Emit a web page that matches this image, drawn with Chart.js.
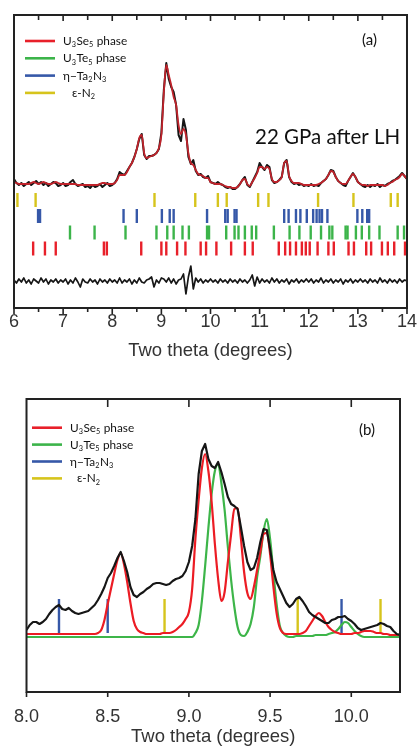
<!DOCTYPE html>
<html>
<head>
<meta charset="utf-8">
<script src="https://cdn.jsdelivr.net/npm/chart.js@4.4.0/dist/chart.umd.min.js"></script>
<style>
  html, body { margin: 0; padding: 0; background: #fff; }
  .panel { position: relative; width: 420px; }
  #wrapA { height: 370px; }
  #wrapB { height: 378px; }
</style>
</head>
<body>
<div class="panel" id="wrapA"><canvas id="chartA"></canvas></div>
<div class="panel" id="wrapB"><canvas id="chartB"></canvas></div>
<script>
// ---------- panel (a): 22 GPa after LH, 6-14 deg, one point every 0.05 deg
const twoThetaA = Array.from({ length: 161 }, (_, i) => +(6 + i * 0.05).toFixed(2));
const observedA = [
  6, 2, 0, 2, -1, 1, 3, 0, 2, 4, 1, 3, 0, 2, -1, 1, 3, 2, -1, 0,
  2, -1, 0, 3, 5, 1, -1, 0, 1, -2, -1, -3, 0, -2, -1, 1, -2, 0, 2, -1,
  0, 2, 6, 13, 11, 10, 14, 18, 22, 28, 36, 46, 51, 30, 26, 29, 29, 30, 32, 36,
  52, 95, 122, 106, 98, 93, 80, 50, 44, 66, 55, 28, 21, 25, 14, 10, 11, 8, 7, 9,
  3, 2, 1, 3, 1, 0, -2, -3, -2, -4, -4, -2, 1, 5, 8, 0, -2, 3, 8, 13,
  22, 18, 15, 20, 18, 5, 2, 3, 5, 8, 22, 25, 8, 3, 1, 2, 0, 1, -1, 0,
  -1, 1, -1, 0, -1, 2, 4, 6, 10, 15, 14, 8, 4, 2, 0, -1, 4, 8, 12, 8,
  3, 1, -1, -2, 0, -2, 0, -1, 1, -2, 0, -1, 1, 2, 4, 5, 7, 9, 12, 9,
  6
];
const calculatedA = [
  3, 2, 1, 1, 1, 1, 1, 2, 3, 2, 1, 2, 3, 2, 1, 1, 2, 3, 2, 1,
  1, 1, 1, 1, 1, 1, 0, 0, 0, 0, 0, 0, 0, 0, 0, 1, 2, 2, 1, 1,
  1, 2, 5, 10, 10, 10, 13, 18, 22, 28, 36, 47, 50, 32, 27, 28, 29, 30, 32, 37,
  50, 92, 120, 110, 100, 88, 80, 60, 51, 56, 50, 32, 22, 20, 15, 11, 10, 9, 7, 7,
  3, 2, 1, 1, 1, 0, -1, -2, -2, -3, -3, -2, 1, 5, 6, 1, -1, 3, 7, 12,
  18, 18, 16, 18, 16, 6, 3, 3, 5, 8, 22, 24, 9, 4, 2, 2, 2, 1, 0, 0,
  0, 0, 0, 0, 1, 2, 4, 6, 10, 14, 13, 8, 4, 2, 1, 1, 4, 8, 11, 8,
  3, 1, 0, 0, -1, 0, 0, 0, 0, 0, 0, -1, 0, 2, 3, 5, 6, 8, 11, 9,
  6
];
const differenceA = [
  1, -2, 2, -1, 3, -2, 1, -3, 2, 0, -2, 3, -1, 2, -3, 1, -1, 2, -2, 1,
  -1, 2, -3, 1, -2, 3, -1, -6, 2, -1, -2, 2, -1, 1, -3, 2, -1, 1, -2, 2,
  -1, 1, -2, 3, -2, 1, -1, 2, -3, 1, -2, 3, -1, -2, 1, 2, 4, -6, 1, -2,
  3, 2, -1, 3, -2, 2, -3, 1, 2, 7, -13, 4, 15, -8, 3, -1, 2, -2, 1, -1,
  2, -1, 1, -2, 2, -1, 1, -2, 2, -1, 1, -2, 2, -1, 1, -2, 1, 6, -5, 4,
  -2, 2, -1, 1, -2, 3, -1, 2, -2, 1, -1, 2, -3, 1, -1, 2, -2, 1, -1, 2,
  -1, 2, -2, 1, -1, 3, -2, 1, -1, 2, -2, 1, -1, 2, -3, 1, -1, 2, -2, 1,
  -1, 2, -1, 1, -2, 2, -1, 1, -2, 3, -1, 1, -2, 2, -1, 1, -2, 2, -1, 1,
  0
];

// reflection positions (two theta, deg) for each phase
const epsN2Refl = [6.07, 6.44, 8.86, 9.69, 10.15, 10.33, 10.97, 11.18, 12.19, 12.91, 13.67, 13.81];
const ta2n3Refl = [6.49, 6.53, 8.23, 8.50, 9.01, 9.17, 9.25, 9.93, 10.30, 10.35, 10.49, 10.53,
  11.50, 11.59, 11.74, 11.83, 11.96, 12.09, 12.16, 12.22, 12.27, 12.38, 12.99, 13.09, 13.19, 13.23];
const u3te5Refl = [7.14, 7.64, 8.27, 8.90, 9.12, 9.25, 9.43, 9.56, 9.93, 9.97, 10.32, 10.49, 10.57,
  10.70, 10.84, 10.93, 11.29, 11.61, 11.81, 12.04, 12.25, 12.42, 12.48, 12.75, 12.79, 12.96,
  13.08, 13.23, 13.44, 13.81, 13.94];
const u3se5Refl = [6.39, 6.63, 6.85, 7.83, 7.89, 8.59, 9.00, 9.10, 9.32, 9.49, 9.80, 9.91, 10.12,
  10.42, 10.70, 10.86, 11.39, 11.52, 11.62, 11.74, 11.86, 11.94, 12.02, 12.18, 12.40, 12.51,
  12.81, 12.92, 13.17, 13.27, 13.49, 13.61, 13.74, 13.96];

const tickLabelsA = [6, 7, 8, 9, 10, 11, 12, 13, 14];
const minorTicksA = [6.5, 7.5, 8.5, 9.5, 10.5, 11.5, 12.5, 13.5];

// ---------- panel (b): zoom 8.0-10.3 deg, one point every 0.02 deg
const twoThetaB = Array.from({ length: 116 }, (_, i) => +(8 + i * 0.02).toFixed(2));
const observedB = [
  4, 9, 12, 12, 10, 12, 15, 20, 24, 27,
  29, 25, 24, 26, 23, 21, 20, 21, 22, 23,
  26, 29, 34, 40, 47, 56, 61, 68, 76, 82,
  73, 62, 47, 39, 37, 40, 42, 45, 47, 50,
  51, 51, 50, 49, 50, 53, 55, 56, 58, 63,
  72, 88, 115, 160, 183, 190, 175, 168, 166, 172,
  162, 150, 137, 130, 128, 125, 107, 88, 72, 64,
  66, 76, 92, 105, 104, 85, 64, 52, 45, 38,
  31, 27, 30, 35, 37, 33, 28, 22, 19, 17,
  15, 13, 11, 11, 14, 15, 17, 17, 18, 15,
  13, 10, 6, 4, 5, 6, 7, 8, 9, 11,
  10, 8, 7, 3, 0, -1
];
const u3se5B = [
  0, 0, 0, 0, 0, 0, 0, 0, 0, 0,
  0, 0, 0, 0, 0, 0, 0, 0, 0, 0,
  0, 0, 1, 4, 14, 30, 45, 60, 74, 81,
  70, 52, 31, 13, 5, 2, 1, 0, 0, 0,
  0, 0, 1, 1, 1, 2, 4, 7, 10, 15,
  22, 45, 95, 134, 166, 180, 163, 132, 90, 55,
  33, 42, 72, 100, 125, 126, 96, 62, 41, 35,
  47, 64, 82, 100, 101, 80, 48, 21, 6, 1,
  0, 0, 0, 0, 0, 1, 3, 8, 13, 18,
  21, 18, 12, 7, 4, 2, 1, 0, 0, 0,
  0, 1, 1, 2, 3, 3, 3, 2, 1, 1,
  0, 0, -1, -1, -1, -1
];
const u3te5B = [
  -3, -3, -3, -3, -3, -3, -3, -3, -3, -3,
  -3, -3, -3, -3, -3, -3, -3, -3, -3, -3,
  -3, -3, -3, -3, -3, -3, -3, -3, -3, -3,
  -3, -3, -3, -3, -3, -3, -3, -3, -3, -3,
  -3, -3, -3, -3, -3, -3, -3, -3, -3, -3,
  -3, -3, 1, 9, 33, 68, 106, 140, 163, 170,
  151, 124, 87, 54, 27, 7, -1, -2, 2, 10,
  27, 57, 78, 103, 115, 95, 62, 30, 8, 1,
  -2, -3, -3, -2, -2, -2, -2, -2, -2, -1,
  -1, -1, -1, 0, 1, 2, 5, 9, 12, 11,
  7, 3, 0, -2, -3, -3, -3, -3, -3, -3,
  -3, -3, -3, -3, -3, -3
];
const ta2n3B = [8.20, 8.50, 9.94];
const epsN2B = [8.85, 9.67, 10.18];
const tickLabelsB = [8.0, 8.5, 9.0, 9.5, 10.0];

// ---------- styles
const RED = '#e8202a', GREEN = '#3cb44a', BLUE = '#3658a8', YELLOW = '#d6c41c', INK = '#111';
const axisFont = { family: 'Liberation Sans, Arial, sans-serif', size: 18 };
const titleFont = { family: 'Liberation Sans, Arial, sans-serif', size: 18.5 };
const rowA = { eps: -15, ta: -31, te: -47.5, se: -63.5, diff: -96 };

const pts = (xs, ys, shift = 0) => xs.map((x, i) => ({ x, y: ys[i] + shift }));
const marks = (xs, y, color, r) => ({
  data: xs.map(x => ({ x, y })), showLine: false, pointStyle: 'line',
  pointRotation: 90, pointRadius: r, pointHoverRadius: r,
  pointBorderColor: color, pointBorderWidth: 2.4, order: 5
});

function drawRich(ctx, str, x, y, size) {
  let cx = x;
  str.split(/(_\d)/).forEach(part => {
    if (!part) return;
    const sub = part[0] === '_';
    const t = sub ? part.slice(1) : part;
    ctx.font = (sub ? size * 0.62 : size) + 'px Lato';
    ctx.fillText(t, cx, sub ? y + size * 0.2 : y);
    cx += ctx.measureText(t).width + (sub ? 0.5 : 0);
  });
}

// box, ticks, legend and labels
const frame = {
  id: 'frame',
  afterDatasetsDraw(chart, args, o) {
    const { ctx, chartArea: a, scales: { x } } = chart;
    ctx.save();
    ctx.strokeStyle = '#222';
    ctx.lineWidth = 1.6;
    ctx.beginPath();
    o.bottom.forEach(([v, len]) => { const p = x.getPixelForValue(v); ctx.moveTo(p, a.bottom); ctx.lineTo(p, a.bottom + len); });
    o.top.forEach(([v, len]) => { const p = x.getPixelForValue(v); ctx.moveTo(p, a.top); ctx.lineTo(p, a.top + len); });
    ctx.stroke();
    ctx.lineWidth = 2;
    ctx.strokeRect(a.left, a.top, a.right - a.left, a.bottom - a.top);

    ctx.fillStyle = INK;
    ctx.textBaseline = 'alphabetic';
    o.legend.forEach((it, i) => {
      const y = o.legendY + i * o.legendGap;
      ctx.strokeStyle = it.color;
      ctx.lineWidth = 2.6;
      ctx.beginPath();
      ctx.moveTo(o.legendX, y);
      ctx.lineTo(o.legendX + 30, y);
      ctx.stroke();
      drawRich(ctx, it.text, o.legendX + 38 + (it.indent || 0), y + 4, 11.8);
    });
    o.labels.forEach(l => {
      ctx.font = l.size + 'px Lato';
      ctx.fillText(l.text, l.x, l.y);
    });
    ctx.restore();
  }
};

const legendItems = (epsIndent) => [
  { text: 'U_3Se_5 phase', color: RED },
  { text: 'U_3Te_5 phase', color: GREEN },
  { text: 'η−Ta_2N_3', color: BLUE },
  { text: 'ε-N_2', color: YELLOW, indent: epsIndent }
];

function xScale(min, max, labels, height, pad, titlePad, fmt) {
  return {
    type: 'linear', min, max,
    afterBuildTicks: s => { s.ticks = labels.map(v => ({ value: v })); },
    afterFit: s => { s.height = height; },
    grid: { display: false, drawTicks: false },
    border: { display: false },
    ticks: { font: axisFont, color: '#333', padding: pad, maxRotation: 0, autoSkip: false, callback: fmt },
    title: { display: true, text: 'Two theta (degrees)', font: titleFont, color: '#333', padding: { top: 0, bottom: titlePad } }
  };
}

Chart.defaults.animation = false;
Chart.defaults.events = [];

new Chart(document.getElementById('chartA'), {
  type: 'line',
  data: {
    datasets: [
      { data: pts(twoThetaA, calculatedA), borderColor: '#c0232b', borderWidth: 1.8, cubicInterpolationMode: 'monotone', order: 1 },
      { data: pts(twoThetaA, observedA), borderColor: '#161616', borderWidth: 2, order: 2 },
      { data: pts(twoThetaA, differenceA, rowA.diff), borderColor: '#161616', borderWidth: 1.7, order: 2 },
      marks(epsN2Refl, rowA.eps, YELLOW, 7),
      marks(ta2n3Refl, rowA.ta, BLUE, 7),
      marks(u3te5Refl, rowA.te, GREEN, 7),
      marks(u3se5Refl, rowA.se, RED, 7)
    ]
  },
  options: {
    responsive: true,
    maintainAspectRatio: false,
    layout: { padding: { top: 15, left: 14, right: 11, bottom: 0 } },
    elements: { point: { radius: 0 }, line: { borderJoinStyle: 'round' } },
    scales: {
      x: xScale(6, 14, tickLabelsA, 62, 3, 8, v => v),
      y: { display: false, min: -123, max: 170 }
    },
    plugins: {
      legend: { display: false },
      tooltip: { enabled: false },
      frame: {
        bottom: tickLabelsA.map(v => [v, 6]).concat(minorTicksA.map(v => [v, 4])),
        top: minorTicksA.map(v => [v, 5]).concat(tickLabelsA.slice(1, -1).map(v => [v, 6])),
        legend: legendItems(9), legendX: 25, legendY: 41, legendGap: 17.3,
        labels: [
          { text: '(a)', x: 362, y: 45, size: 15 },
          { text: '22 GPa after LH', x: 255, y: 144, size: 20.5 }
        ]
      }
    }
  },
  plugins: [frame]
});

new Chart(document.getElementById('chartB'), {
  type: 'line',
  data: {
    datasets: [
      { data: pts(twoThetaB, observedB), borderColor: '#161616', borderWidth: 2.2, order: 1 },
      { data: pts(twoThetaB, u3se5B), borderColor: '#ec1c24', borderWidth: 2.2, cubicInterpolationMode: 'monotone', order: 2 },
      { data: pts(twoThetaB, u3te5B), borderColor: '#3db549', borderWidth: 2.2, cubicInterpolationMode: 'monotone', order: 3 },
      marks(ta2n3B, 18, BLUE, 17),
      marks(epsN2B, 18, YELLOW, 17)
    ]
  },
  options: {
    responsive: true,
    maintainAspectRatio: false,
    layout: { padding: { top: 29, left: 23, right: 20, bottom: 0 } },
    elements: { point: { radius: 0 }, line: { borderJoinStyle: 'round' } },
    scales: {
      x: xScale(8, 10.3, tickLabelsB, 56, 14, 0, v => v.toFixed(1)),
      y: { display: false, min: -58, max: 235 }
    },
    plugins: {
      legend: { display: false },
      tooltip: { enabled: false },
      frame: {
        bottom: tickLabelsB.map(v => [v, 5]),
        top: tickLabelsB.slice(1).map(v => [v, 8]),
        legend: legendItems(7), legendX: 32, legendY: 57.7, legendGap: 16.9,
        labels: [
          { text: '(b)', x: 359, y: 65, size: 15 }
        ]
      }
    }
  },
  plugins: [frame]
});
</script>
</body>
</html>
